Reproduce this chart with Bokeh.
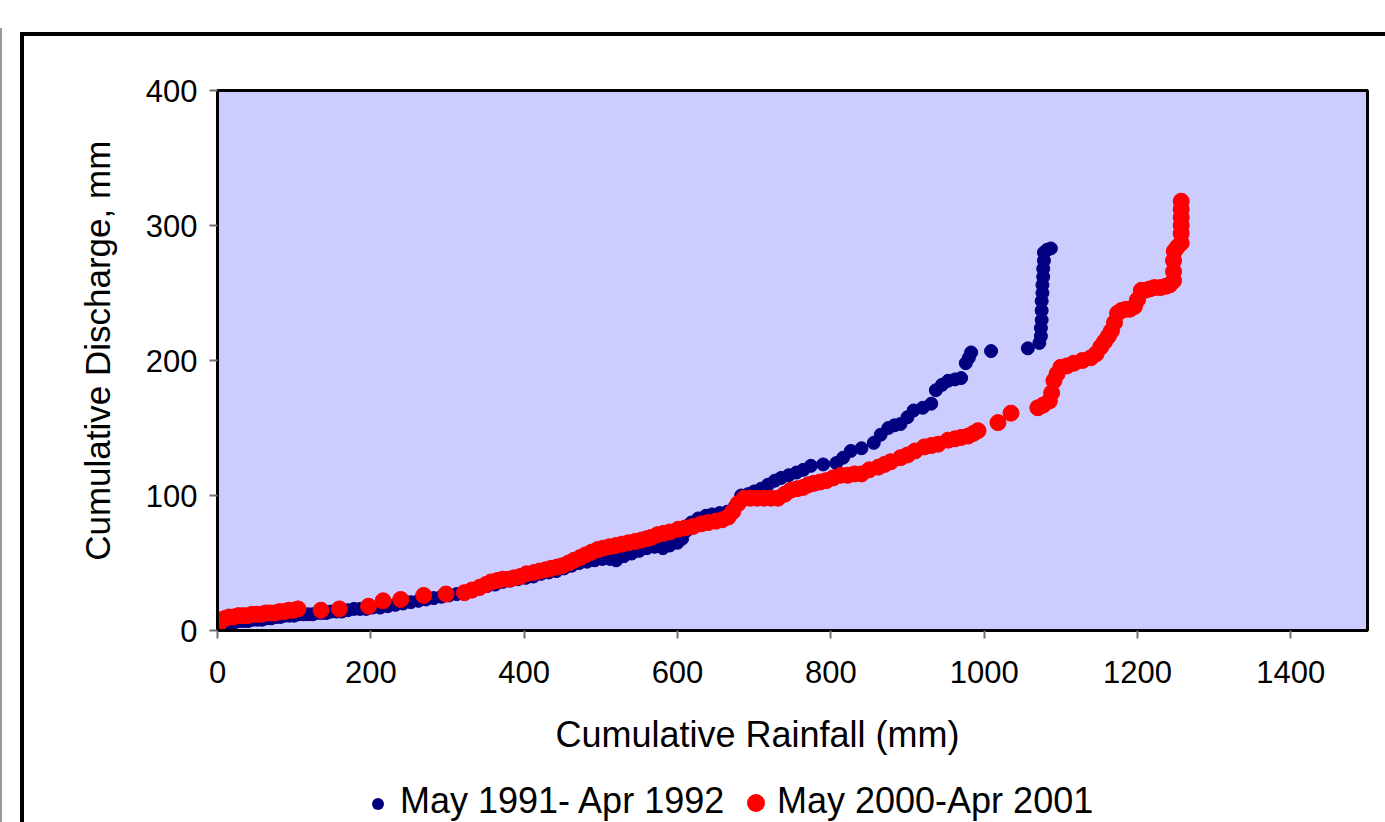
from bokeh.plotting import figure
from bokeh.models import (ColumnDataSource, FixedTicker, Range1d, Div, InlineStyleSheet)
from bokeh.layouts import column
from bokeh.embed import file_html
from bokeh.resources import INLINE

# ---- data ----
rain_1991 = [0, 2, 5, 10, 16, 22, 28, 34, 40, 46, 52, 58, 64, 70, 76, 82, 88, 94, 100,
             106, 112, 118, 124, 130, 136, 142, 148, 155, 162, 170, 178, 186, 194, 202,
             212, 222, 232, 242, 252, 262, 272, 282, 292, 302, 312, 322, 332, 342, 352,
             362, 372, 382, 392, 402, 412, 422, 432, 442, 452, 462, 472, 482, 492, 502,
             512, 520, 530, 540, 550, 560, 570, 581, 590, 600, 606, 612, 618, 627, 637,
             645, 655, 665, 675, 683, 692, 700, 709, 718, 727, 735, 745, 755, 764, 774,
             790, 807, 816, 826, 840, 856, 865, 875, 883, 891, 900, 908, 920, 931, 937,
             945, 953, 962, 970, 976, 980, 983, 1009, 1057, 1072, 1074, 1074, 1075, 1075,
             1075, 1076, 1076, 1077, 1077, 1078, 1078, 1082, 1087]
disch_1991 = [0, 2, 4, 5, 6, 6, 7, 7, 7, 8, 8, 8, 9, 9, 10, 10, 11, 11, 11,
              12, 12, 12, 12, 13, 13, 13, 14, 14, 14, 15, 16, 16, 16, 17,
              17, 18, 19, 20, 21, 22, 23, 24, 25, 26, 27, 28, 29, 31, 33,
              34, 36, 37, 38, 39, 40, 42, 43, 44, 46, 48, 50, 51, 52, 53,
              53, 52, 55, 57, 59, 61, 62, 61, 63, 65, 68, 74, 80, 83, 85,
              86, 87, 88, 92, 100, 101, 103, 105, 108, 111, 113, 115, 117, 119, 122,
              123, 124, 128, 133, 135, 139, 145, 150, 152, 153, 158, 163, 165, 168, 178,
              182, 185, 186, 187, 198, 202, 206, 207, 209, 213, 218, 224, 230, 237,
              244, 250, 256, 262, 268, 274, 280, 282, 283]

rain_2000 = [0, 0, 1, 3, 6, 10, 15, 21, 27, 33, 39, 45, 51, 57, 63, 69, 75, 81, 87, 93, 99, 105,
             135, 159, 197, 216, 239, 269, 298,
             322, 332, 342, 350, 357, 365, 372, 380, 387, 395, 403, 413, 420, 428, 435, 443,
             450, 458, 465, 473, 480, 488, 496, 503, 511, 520, 528, 536, 545, 553, 560, 566,
             574, 582, 590, 601, 610, 620, 631, 640, 650, 658, 666, 672, 679, 687, 695, 704,
             713, 722, 731, 740, 748, 756, 764, 771, 778, 786, 794, 803, 813, 822, 831, 840,
             850, 862, 870, 878, 891, 900, 910, 922, 931, 940, 953, 962, 970, 979, 986, 992,
             1018, 1035,
             1070, 1077, 1085, 1088, 1091, 1095, 1100, 1108, 1117, 1128, 1139, 1146, 1152,
             1157, 1162, 1166, 1170, 1174, 1179, 1185, 1190, 1196, 1200, 1205, 1210, 1216,
             1222, 1230, 1237, 1242, 1247, 1247, 1247, 1248, 1252, 1257, 1257, 1257, 1257,
             1257, 1257]
disch_2000 = [0, 3, 5, 7, 8, 9, 10, 10, 11, 11, 11, 12, 12, 12, 13, 13, 13, 14, 14, 15, 15, 16,
              15, 16, 18, 22, 23, 26, 27,
              28, 30, 32, 34, 36, 37, 38, 38, 39, 40, 42, 43, 44, 45, 46, 47,
              48, 50, 52, 54, 56, 58, 60, 61, 62, 63, 64, 65, 66, 67, 68, 69,
              71, 72, 73, 75, 76, 77, 79, 80, 81, 82, 84, 88, 94, 98, 98, 98,
              98, 98, 98, 101, 104, 105, 106, 108, 109, 110, 111, 113, 115, 115, 116, 116,
              119, 121, 123, 125, 128, 130, 133, 136, 137, 138, 141, 142, 143, 144, 146, 148,
              154, 161,
              165, 167, 170, 176, 185, 190, 195, 196, 198, 200, 202, 205, 210,
              214, 218, 222, 228, 235, 237, 238, 238, 240, 245, 252, 252, 253,
              254, 254, 255, 256, 259, 266, 274, 281, 284, 287, 294, 300, 306,
              312, 318]

x_ticks = [0, 200, 400, 600, 800, 1000, 1200, 1400]
y_ticks = [0, 100, 200, 300, 400]
x_title = "Cumulative Rainfall (mm)"
y_title = "Cumulative Discharge, mm"
series_labels = ["May 1991- Apr 1992", "May 2000-Apr 2001"]
series_colors = ["#000080", "#FF0000"]

FONT = "Liberation Sans"
FIG_H = 780
NBSP = "\u00a0"

p = figure(width=1385, height=FIG_H, output_backend="svg", toolbar_location=None,
           x_range=Range1d(0, 1500), y_range=Range1d(0, 400),
           min_border_left=217, min_border_right=18, min_border_top=90,
           min_border_bottom=FIG_H - 630,
           background_fill_color="#CCCCFF", border_fill_color="white")

p.outline_line_color = "black"
p.outline_line_width = 3
p.grid.visible = False

src1 = ColumnDataSource(dict(x=rain_1991, y=disch_1991))
src2 = ColumnDataSource(dict(x=rain_2000, y=disch_2000))
p.scatter("x", "y", source=src1, size=13, fill_color=series_colors[0], line_color=series_colors[0])
p.scatter("x", "y", source=src2, size=16, fill_color=series_colors[1], line_color=series_colors[1])

for ax in (p.xaxis[0], p.yaxis[0]):
    ax.axis_line_color = "black"
    ax.axis_line_width = 3
    ax.major_tick_line_color = "#707070"
    ax.major_tick_line_width = 2
    ax.major_tick_out = 8
    ax.major_tick_in = 0
    ax.minor_tick_line_color = None
    ax.major_label_text_font = FONT
    ax.major_label_text_font_size = "31px"
    ax.major_label_text_color = "black"
    ax.axis_label_text_font = FONT
    ax.axis_label_text_font_style = "normal"
    ax.axis_label_text_color = "black"

p.xaxis[0].axis_label_text_font_size = "36px"
p.yaxis[0].axis_label_text_font_size = "35px"
p.xaxis[0].ticker = FixedTicker(ticks=x_ticks)
p.yaxis[0].ticker = FixedTicker(ticks=y_ticks)
# the titles sit slightly off the frame centre in the reference; padding spaces shift them
p.xaxis[0].axis_label = x_title + NBSP * 7
p.yaxis[0].axis_label = NBSP * 2 + y_title
p.xaxis[0].major_label_standoff = 22
p.yaxis[0].major_label_standoff = 12
p.xaxis[0].axis_label_standoff = 28
p.yaxis[0].axis_label_standoff = 26

# legend row (HTML, below the figure), kept fully inside the window
LEG_H = 822 - FIG_H
legend_html = f"""
<div style="position:relative;width:1385px;height:{LEG_H}px;overflow:hidden;
            font-family:'{FONT}';font-size:36px;color:black;">
  <span style="position:absolute;left:372px;top:{804 - 6 - FIG_H}px;width:12px;height:12px;
               border-radius:50%;background:{series_colors[0]};"></span>
  <span style="position:absolute;left:400px;top:{785 - FIG_H}px;line-height:32px;
               white-space:nowrap;">{series_labels[0]}</span>
  <span style="position:absolute;left:747px;top:{803 - 9 - FIG_H}px;width:18px;height:18px;
               border-radius:50%;background:{series_colors[1]};"></span>
  <span style="position:absolute;left:777px;top:{785 - FIG_H}px;line-height:32px;
               white-space:nowrap;">{series_labels[1]}</span>
</div>
"""
leg = Div(text=legend_html, width=1385, height=LEG_H,
          styles={"overflow": "hidden", "margin": "0", "padding": "0"})

layout = column(p, leg, spacing=0)
layout.stylesheets = [InlineStyleSheet(css="""
:host { position: relative; overflow: hidden; }
:host::before { content: ''; position: absolute; left: 0px; top: 28px; width: 2px; bottom: 0px;
                background: #9a9a9a; pointer-events: none; z-index: 10; }
:host::after { content: ''; position: absolute; left: 20px; top: 32px; right: 0px; bottom: 0px;
               border-left: 4px solid black; border-top: 4px solid black;
               pointer-events: none; z-index: 10; }
""")]

open("out.html", "w").write(file_html(layout, INLINE))
